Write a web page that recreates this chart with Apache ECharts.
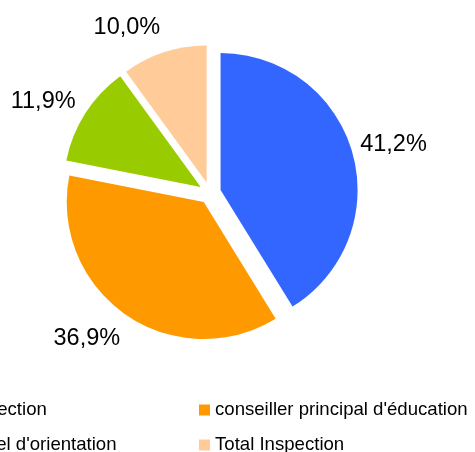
<!DOCTYPE html>
<html>
<head>
<meta charset="utf-8">
<script src="https://cdn.jsdelivr.net/npm/echarts@6/dist/echarts.min.js"></script>
<style>
html,body{margin:0;padding:0;background:#fff;}
#c{width:475px;height:452px;}
</style>
</head>
<body>
<div id="c"></div>
<script>
const categories = ["Total Direction", "conseiller principal d'éducation", "personnel d'orientation", "Total Inspection"];
const values = [41.2, 36.9, 11.9, 10.0];
const labelTexts = ["41,2%", "36,9%", "11,9%", "10,0%"];
const colors = ["#3366FF", "#FF9900", "#99CC00", "#FFCC99"];
const labelLen = [31, 29, 21, 26];
const labelLen2 = [-22, -11, -8, -4];

const chart = echarts.init(document.getElementById('c'), null, {renderer: 'canvas'});
const data = categories.map((name, i) => ({
  name: name,
  value: values[i],
  selected: true,
  itemStyle: {color: colors[i]},
  select: {itemStyle: {color: colors[i], borderWidth: 0}},
  label: {formatter: labelTexts[i]},
  labelLine: {length: labelLen[i], length2: labelLen2[i], show: false}
}));

const legendCommon = {
  orient: 'vertical',
  icon: 'rect',
  itemWidth: 11,
  itemHeight: 11,
  itemGap: 15,
  padding: 0,
  selectedMode: false,
  top: 400,
  height: 80,
  textStyle: {fontFamily: 'Liberation Sans', fontSize: 18.6, color: '#000', lineHeight: 20}
};

chart.setOption({
  animation: false,
  backgroundColor: '#fff',
  legend: [
    Object.assign({}, legendCommon, {left: -87, data: [categories[0], categories[2]]}),
    Object.assign({}, legendCommon, {left: 199, data: [categories[1], categories[3]]})
  ],
  series: [{
    type: 'pie',
    center: [210, 193],
    radius: 137,
    startAngle: 90,
    clockwise: true,
    selectedMode: 'multiple',
    selectedOffset: 11,
    avoidLabelOverlap: false,
    emphasis: {disabled: true},
    label: {
      show: true,
      position: 'outside',
      fontFamily: 'Liberation Sans',
      fontSize: 23.5,
      color: '#000',
      distanceToLabelLine: 0
    },
    labelLine: {show: false},
    itemStyle: {borderWidth: 0},
    data: data
  }]
});
</script>
</body>
</html>
